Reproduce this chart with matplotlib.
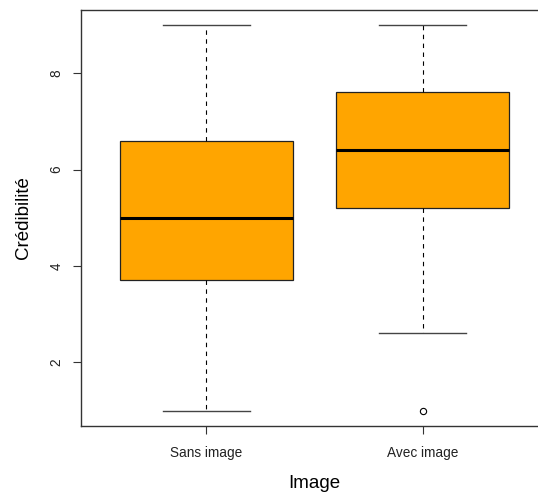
import numpy as np
import matplotlib
matplotlib.use('Agg')
import matplotlib.pyplot as plt

# Boxplot summary.
groups = ['Sans image', 'Avec image']
whisker_low = [1.0, 2.6]
q1 = [3.7, 5.2]
median = [5.0, 6.4]
q3 = [6.6, 7.6]
whisker_high = [9.0, 9.0]
outliers = [[], [1.0]]

boxColor = '#FFA500'
plt.rcParams['font.family'] = ['Liberation Sans', 'DejaVu Sans']

fig = plt.figure(figsize=(5.38, 4.95), dpi=100)
# R-like plot region, the right side runs slightly past the image edge.
ax = fig.add_axes([81/538, 69/495, 467/538, 416.5/495])

stats = []
for i, name in enumerate(groups):
  stats.append({'label': name, 'whislo': whisker_low[i], 'q1': q1[i],
                'med': median[i], 'q3': q3[i], 'whishi': whisker_high[i],
                'fliers': outliers[i]})

ax.bxp(stats, positions=[1, 2], widths=0.8, patch_artist=True,
       boxprops=dict(facecolor=boxColor, edgecolor='#222222', linewidth=0.9),
       medianprops=dict(color='black', linewidth=2.2, solid_capstyle='butt'),
       whiskerprops=dict(color='black', linewidth=0.8, linestyle=(0, (4, 4))),
       capprops=dict(color='#444444', linewidth=1.0),
       flierprops=dict(marker='o', markerfacecolor='none',
                       markeredgecolor='black', markersize=4.5,
                       markeredgewidth=0.8),
       capwidths=0.4)

ax.set_xlim(0.42, 2.58)
ax.set_ylim(0.68, 9.32)
ax.set_yticks([2, 4, 6, 8])
ax.set_yticklabels(['2', '4', '6', '8'], rotation=90, va='center')
ax.set_xticks([1, 2])
ax.set_xticklabels(groups)

for spine in ax.spines.values():
  spine.set_color('#333333')
  spine.set_linewidth(1.0)

ax.tick_params(axis='both', length=5.5, width=0.8, color='#333333',
               labelsize=9.8, labelcolor='#222222')
ax.tick_params(axis='x', pad=9)
ax.tick_params(axis='y', pad=7)

ax.set_xlabel('Image', fontsize=13.5, labelpad=11)
ax.set_ylabel('Crédibilité', fontsize=13.5, labelpad=13)

fig.savefig('out.png', dpi=100)
